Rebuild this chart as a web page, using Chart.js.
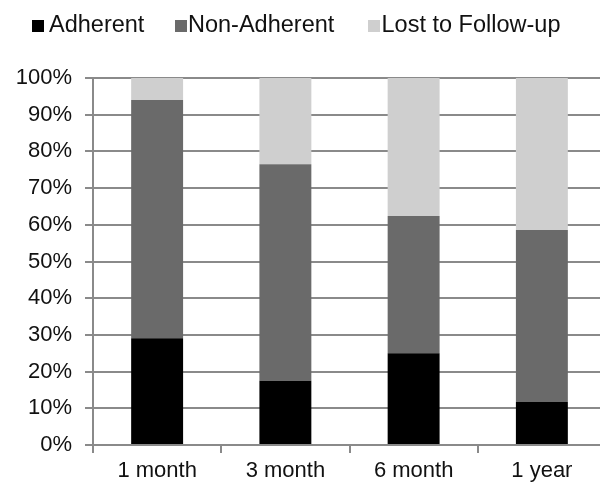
<!DOCTYPE html>
<html>
<head>
<meta charset="utf-8">
<script src="https://cdn.jsdelivr.net/npm/chart.js@4"></script>
<style>
  html, body { margin: 0; padding: 0; background: #fff; overflow: hidden; }
  #wrap { position: relative; width: 606px; height: 483px; }
</style>
</head>
<body>
<div id="wrap"><canvas id="c" width="606" height="483"></canvas></div>
<script>
const categories = ['1 month', '3 month', '6 month', '1 year'];
const adherent = [29.1, 17.5, 25.0, 11.7];
const nonAdherent = [64.9, 59.0, 37.4, 46.9];
const lostToFollowUp = [6.0, 23.5, 37.6, 41.4];
const seriesNames = ['Adherent', 'Non-Adherent', 'Lost to Follow-up'];
const seriesColors = ['#000000', '#6a6a6a', '#cfcfcf'];

const FONT = '"Liberation Sans", Arial, sans-serif';
const GRID = '#8a8a8a';

// Legend row across the top: swatch x and label x for each series
const legendBoxX = [32, 175, 368];
const legendTextX = [49, 188, 381.5];

const topLegend = {
  id: 'topLegend',
  afterDraw(chart) {
    const ctx = chart.ctx;
    ctx.save();
    ctx.font = '23.5px ' + FONT;
    ctx.textBaseline = 'alphabetic';
    chart.data.datasets.forEach((ds, i) => {
      ctx.fillStyle = ds.backgroundColor;
      ctx.fillRect(legendBoxX[i], 20, 12, 12);
      ctx.fillStyle = '#111';
      ctx.fillText(ds.label, legendTextX[i], 31.5);
    });
    ctx.restore();
  }
};

new Chart(document.getElementById('c'), {
  type: 'bar',
  data: {
    labels: categories,
    datasets: [
      { label: seriesNames[0], data: adherent, backgroundColor: seriesColors[0] },
      { label: seriesNames[1], data: nonAdherent, backgroundColor: seriesColors[1] },
      { label: seriesNames[2], data: lostToFollowUp, backgroundColor: seriesColors[2] }
    ]
  },
  options: {
    responsive: false,
    animation: false,
    devicePixelRatio: 1,
    layout: { padding: { top: 78, right: 0, bottom: 0, left: 0 } },
    datasets: { bar: { categoryPercentage: 1, barPercentage: 0.405, borderWidth: 0 } },
    plugins: { legend: { display: false }, tooltip: { enabled: false } },
    scales: {
      x: {
        stacked: true,
        afterFit(scale) { scale.height = 38; },
        grid: { display: true, drawOnChartArea: false, drawTicks: true, tickLength: 8, color: GRID, lineWidth: 2, offset: true },
        border: { display: true, color: GRID, width: 2 },
        ticks: { color: '#111', padding: 5, font: { family: FONT, size: 22 }, maxRotation: 0 }
      },
      y: {
        stacked: true,
        min: 0,
        max: 100,
        afterFit(scale) { scale.width = 93; },
        grid: { color: GRID, lineWidth: 2, tickLength: 8 },
        border: { display: true, color: GRID, width: 2 },
        ticks: {
          stepSize: 10,
          color: '#111',
          padding: 13,
          font: { family: FONT, size: 22 },
          callback: v => v + '%'
        }
      }
    }
  },
  plugins: [topLegend]
});
</script>
</body>
</html>
